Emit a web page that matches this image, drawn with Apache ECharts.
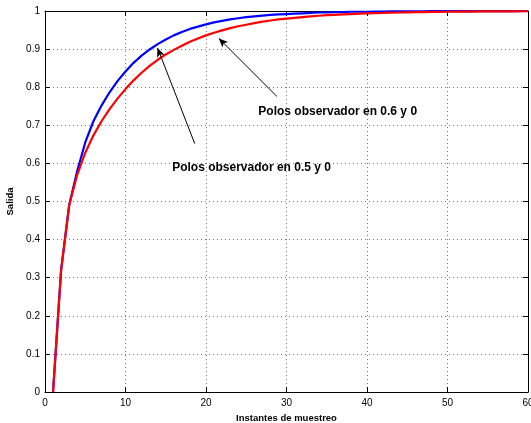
<!DOCTYPE html>
<html>
<head>
<meta charset="utf-8">
<script src="https://cdn.jsdelivr.net/npm/echarts@6/dist/echarts.min.js"></script>
<style>
  html, body { margin: 0; padding: 0; background: #fff; }
  #chart { width: 531px; height: 423px; }
</style>
</head>
<body>
<div id="chart"></div>
<script>
// Step responses sampled at instants 1..60
const firstSample = 1;
const salidaPolos05 = [
  0, 0.32, 0.49, 0.58, 0.655, 0.710, 0.751, 0.786, 0.816, 0.841,
  0.864, 0.883, 0.899, 0.913, 0.925, 0.936, 0.945, 0.953, 0.959, 0.965,
  0.970, 0.974, 0.978, 0.981, 0.984, 0.986, 0.988, 0.990, 0.991, 0.992,
  0.993, 0.994, 0.995, 0.996, 0.996, 0.997, 0.997, 0.998, 0.998, 0.998,
  0.9985, 0.9987, 0.9989, 0.999, 0.9992, 0.9993, 0.9994, 0.9995, 0.9996, 0.9996,
  0.9997, 0.9997, 0.9998, 0.9998, 0.9998, 0.9999, 0.9999, 0.9999, 0.9999, 1.0
];
const salidaPolos06 = [
  0, 0.32, 0.49, 0.57, 0.628, 0.673, 0.710, 0.742, 0.770, 0.795,
  0.818, 0.838, 0.856, 0.872, 0.886, 0.898, 0.909, 0.919, 0.928, 0.936,
  0.943, 0.949, 0.955, 0.960, 0.964, 0.968, 0.972, 0.975, 0.978, 0.980,
  0.982, 0.984, 0.986, 0.9875, 0.989, 0.990, 0.991, 0.992, 0.993, 0.994,
  0.9945, 0.995, 0.9956, 0.996, 0.9965, 0.997, 0.9973, 0.9976, 0.9978, 0.998,
  0.9983, 0.9985, 0.9986, 0.9988, 0.9989, 0.999, 0.9991, 0.9992, 0.9993, 0.9994
];
const xTicks = [0, 10, 20, 30, 40, 50, 60];
const yTicks = [0, 0.1, 0.2, 0.3, 0.4, 0.5, 0.6, 0.7, 0.8, 0.9, 1];

// Annotation texts, anchored in data coordinates
const notaTextos = ['Polos observador en 0.6 y 0', 'Polos observador en 0.5 y 0'];
const notaAnclas = [[26.5, 0.737], [15.8, 0.588]];
// Arrows: [from, to] in data coordinates
const flechas = [
  [[18.6, 0.652], [13.98, 0.903]],
  [[28.8, 0.776], [21.6, 0.928]]
];

const toPairs = arr => arr.map((v, i) => [i + firstSample, v]);
const fontFam = '"Liberation Sans", Arial, Helvetica, sans-serif';

const chart = echarts.init(document.getElementById('chart'), null, { renderer: 'canvas' });

const gridLine = { show: true, lineStyle: { color: '#777', type: [1, 3], width: 1 } };
const axisLine = { show: true, onZero: false, lineStyle: { color: '#000', width: 1 } };
const axisTick = { show: true, inside: true, length: 5, lineStyle: { color: '#000', width: 1 } };

const xBase = { type: 'value', min: xTicks[0], max: xTicks[xTicks.length - 1], interval: 10 };
const yBase = { type: 'value', min: yTicks[0], max: yTicks[yTicks.length - 1], interval: 0.1 };

chart.setOption({
  animation: false,
  backgroundColor: '#fff',
  grid: { left: 45, right: 3, top: 11, bottom: 31, containLabel: false, outerBoundsMode: 'none' },
  xAxis: [
    Object.assign({}, xBase, {
      position: 'bottom',
      name: 'Instantes de muestreo',
      nameLocation: 'middle',
      nameGap: 20,
      nameTextStyle: { fontFamily: fontFam, fontWeight: 'bold', fontSize: 9.5, color: '#000' },
      axisLine, axisTick,
      axisLabel: { fontFamily: fontFam, fontSize: 10, color: '#000', margin: 6,
        formatter: v => String(xTicks.find(t => Math.abs(t - v) < 1e-9) ?? v) },
      splitLine: gridLine
    }),
    Object.assign({}, xBase, {
      position: 'top', axisLine, axisTick,
      axisLabel: { show: false }, splitLine: { show: false }
    })
  ],
  yAxis: [
    Object.assign({}, yBase, {
      position: 'left',
      name: 'Salida',
      nameLocation: 'middle',
      nameGap: 30,
      nameTextStyle: { fontFamily: fontFam, fontWeight: 'bold', fontSize: 9.5, color: '#000' },
      axisLine, axisTick,
      axisLabel: { fontFamily: fontFam, fontSize: 10, color: '#000', margin: 5,
        formatter: v => { const t = yTicks.find(t => Math.abs(t - v) < 1e-9); return String(t ?? v); } },
      splitLine: gridLine
    }),
    Object.assign({}, yBase, {
      position: 'right', axisLine, axisTick,
      axisLabel: { show: false }, splitLine: { show: false }
    })
  ],
  series: [
    {
      name: 'Polos observador en 0.5 y 0',
      type: 'line',
      data: toPairs(salidaPolos05),
      showSymbol: false,
      clip: false,
      lineStyle: { color: '#0000ff', width: 2.2 },
      z: 3
    },
    {
      name: 'Polos observador en 0.6 y 0',
      type: 'line',
      data: toPairs(salidaPolos06),
      showSymbol: false,
      clip: false,
      lineStyle: { color: '#ff0000', width: 2.2 },
      z: 4,
      markLine: {
        silent: true,
        animation: false,
        symbol: ['none', 'arrow'],
        symbolSize: [6, 9],
        label: { show: false },
        emphasis: { disabled: true },
        lineStyle: { color: '#000', width: 1, type: 'solid' },
        data: flechas.map(([a, b]) => [{ coord: a }, { coord: b }])
      }
    }
  ]
});

// Annotation labels placed through the axis scales
chart.setOption({
  graphic: notaTextos.map((txt, i) => {
    const p = chart.convertToPixel({ gridIndex: 0 }, notaAnclas[i]);
    return {
      type: 'text',
      x: p[0], y: p[1],
      z: 10,
      style: {
        text: txt,
        fill: '#000',
        font: 'bold 12px ' + fontFam,
        textAlign: 'left',
        textVerticalAlign: 'middle'
      }
    };
  })
});
</script>
</body>
</html>
